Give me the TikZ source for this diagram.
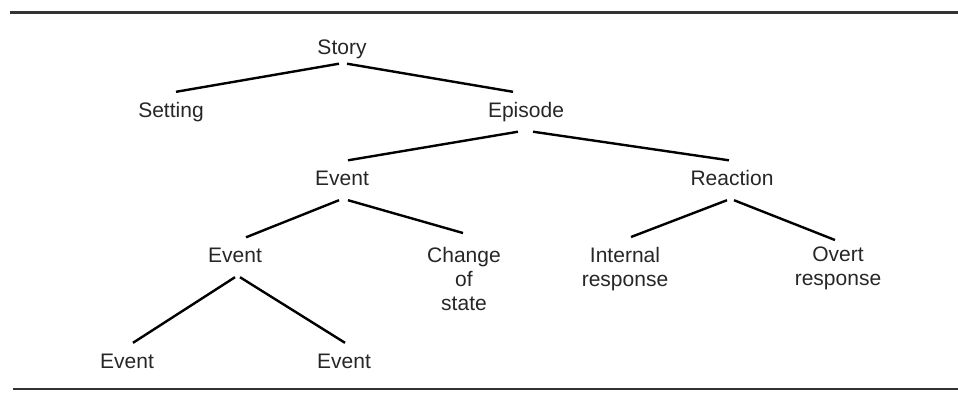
\documentclass[tikz,border=0pt]{standalone}
\usepackage{fontspec}
\setmainfont{Liberation Sans}

\tikzset{
  word/.style={font=\fontsize{21}{24}\selectfont,inner xsep=0pt,inner ysep=10pt,
    text height=15pt,text depth=4.5pt,anchor=base,text=black!85},
  words/.style={font=\fontsize{21}{24}\selectfont,inner xsep=0pt,inner ysep=10pt,
    align=center,anchor=north,text=black!85},
  branch/.style={line width=2.4pt},
  rule/.style={line width=2.6pt,black!80}
}

\begin{document}
\begin{tikzpicture}[x=1pt,y=-1pt]
   \useasboundingbox (0,0) rectangle (958,392);
   \draw[rule] (10,12.5) -- (958,12.5);
   \draw[rule] (13,389) -- (958,389);

   \node[word,inner ysep=4.5pt] (story)   at (342,54.5)  {Story};
   \node[word] (setting)  at (171,117)   {Setting};
   \node[word] (episode)  at (526,117)   {Episode};
   \node[word] (event)    at (342,185.5) {Event};
   \node[word] (reaction) at (732,185.5) {Reaction};
   \node[word] (subevent) at (235,262.5) {Event};
   \node[words] (change)   at (464,237)  {Change\\of\\state};
   \node[words] (internal) at (625,237)  {Internal\\response};
   \node[words] (overt)    at (838,237)  {Overt\\response};
   \node[word] (lefte)    at (127,368)   {Event};
   \node[word] (righte)   at (344,368)   {Event};

   \draw[branch] ([xshift=-3pt]story.south) -- ([xshift=5pt]setting.north);
   \draw[branch] ([xshift=5pt]story.south) -- ([xshift=-13pt]episode.north);
   \draw[branch] ([xshift=-8pt]episode.south) -- ([xshift=6pt]event.north);
   \draw[branch] ([xshift=7pt]episode.south) -- ([xshift=-3pt]reaction.north);
   \draw[branch] ([xshift=-3pt]event.south) -- ([xshift=11pt]subevent.north);
   \draw[branch] ([xshift=6pt]event.south) -- ([xshift=-1pt,yshift=4pt]change.north);
   \draw[branch] ([xshift=-5pt]reaction.south) -- ([xshift=6pt]internal.north);
   \draw[branch] ([xshift=2pt]reaction.south) -- ([xshift=-3pt,yshift=-3pt]overt.north);
   \draw[branch] (subevent.south) -- ([xshift=6pt]lefte.north);
   \draw[branch] ([xshift=5pt]subevent.south) -- ([xshift=1pt]righte.north);
\end{tikzpicture}
\end{document}
